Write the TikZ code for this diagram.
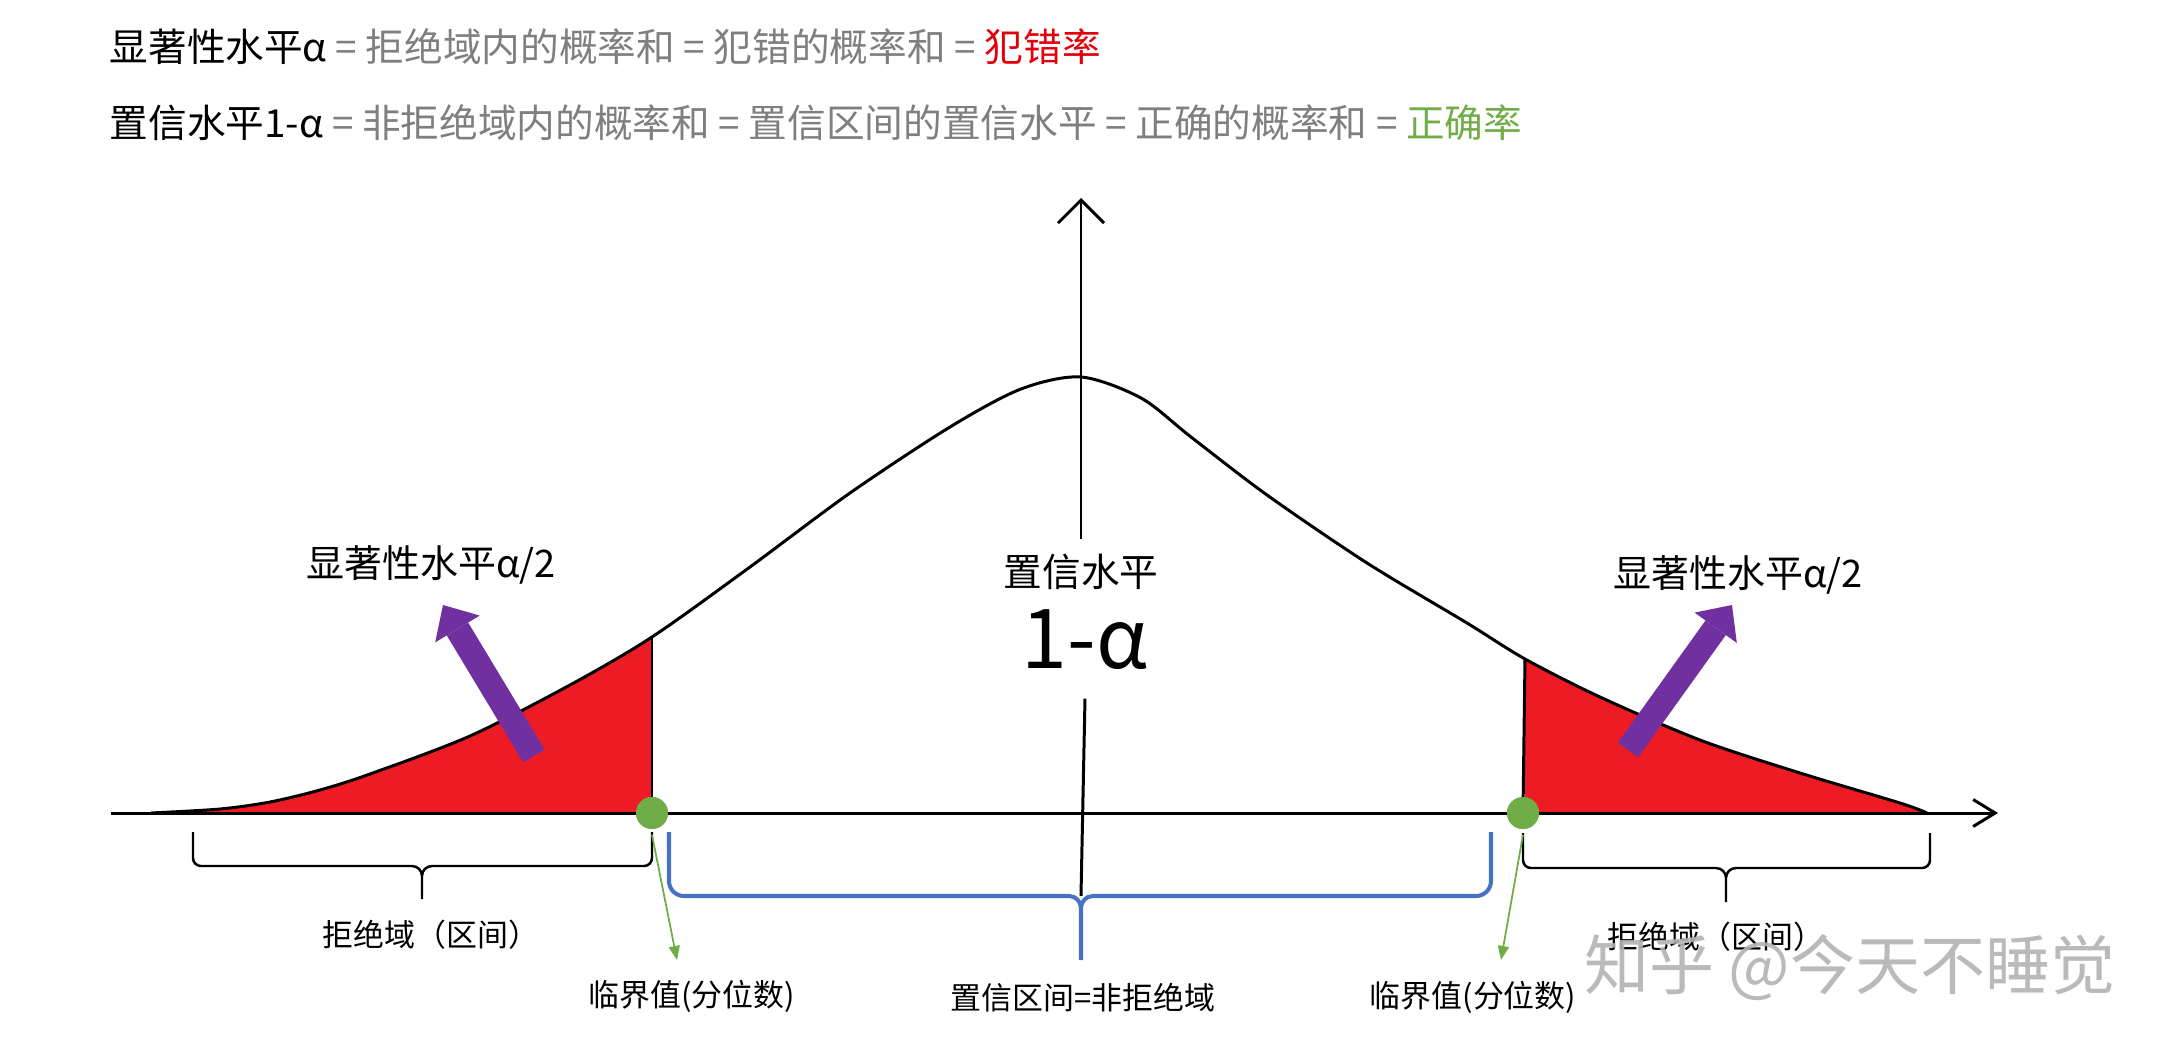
\documentclass[tikz,border=0pt]{standalone}
\usepackage{fontspec}
\newfontfamily\cjk{Noto Sans CJK SC}
\usetikzlibrary{arrows.meta}

\definecolor{tailred}{RGB}{237,28,36}
\definecolor{dotgreen}{RGB}{112,173,71}
\definecolor{braceblue}{RGB}{68,114,196}
\definecolor{arrowpurple}{RGB}{112,48,160}
\definecolor{textgray}{RGB}{127,127,127}
\definecolor{errred}{RGB}{228,0,10}

\newcommand{\bellcurve}{plot[smooth] coordinates {(-9.3,0) (-8.61,0.04) (-8.11,0.11) (-7.61,0.23) (-7.11,0.39) (-6.11,0.77) (-5.11,1.28) (-4.29,1.76) (-3.31,2.46) (-2.31,3.20) (-1.31,3.86) (-0.6,4.24) (0,4.36) (0.6,4.15) (1.1,3.76) (1.86,3.18) (2.86,2.50) (3.86,1.90) (4.44,1.54) (5.19,1.16) (6.19,0.73) (7.19,0.40) (8.19,0.10) (8.46,0)}}

\begin{document}
\begin{tikzpicture}[
  toptext/.style={anchor=west,inner sep=0pt,font=\cjk\fontsize{11pt}{13pt}\selectfont},
  alphatext/.style={font=\cjk\fontsize{10.8pt}{13pt}\selectfont},
  midtext/.style={font=\cjk\fontsize{11pt}{13pt}\selectfont,inner sep=0.14cm},
  bigtext/.style={font=\cjk\fontsize{23.5pt}{28pt}\selectfont,inner sep=0.1cm},
  smalltext/.style={font=\cjk\fontsize{8.8pt}{11pt}\selectfont},
  marktext/.style={font=\cjk\fontsize{18.5pt}{22pt}\selectfont,text=gray!60,opacity=0.9},
  axisline/.style={line width=0.85pt},
  bell/.style={line width=0.85pt},
  critdot/.style={circle,fill=dotgreen,minimum size=0.32cm,inner sep=0pt},
  critarrow/.style={dotgreen,line width=0.5pt,-{Triangle[length=0.14cm,width=0.11cm]}},
  fatarrow/.style={arrowpurple,line width=0.25cm,-{Triangle[length=0.28cm,width=0.52cm,line width=0pt]}},
  blackbrace/.style={line width=0.7pt},
  bluebrace/.style={braceblue,line width=1.15pt}
]
  \useasboundingbox (-10.81,-2.43) rectangle (10.90,8.13);

  \begin{scope}
    \clip (-9.8,0) rectangle (-4.29,5);
    \fill[tailred] \bellcurve -- cycle;
  \end{scope}
  \begin{scope}
    \clip (4.44,0) rectangle (9.0,5);
    \fill[tailred] \bellcurve -- cycle;
  \end{scope}
  \draw[bell] \bellcurve;

  \coordinate (xleft) at (-9.70,0);
  \coordinate (xright) at (9.17,0);
  \coordinate (ybot) at (0,-0.83);
  \coordinate (ytop) at (0,6.15);
  \coordinate (lcrittop) at (-4.29,1.76);
  \coordinate (rcrittop) at (4.44,1.54);

  \node[midtext] (conflvl) at (0,2.41) {置信水平};
  \node[bigtext] (onealpha) at (0.04,1.73) {1-α};
  \draw[axisline,-{Straight Barb[length=0.22cm,width=0.27cm]}] (xleft) -- (xright);
  \draw[axisline] (ybot) -- ([yshift=-0.18cm]onealpha.south);
  \draw[axisline,-{Straight Barb[length=0.23cm,width=0.46cm]}] (conflvl.north) -- (ytop);

  \node[critdot] (ldot) at (-4.29,0) {};
  \node[critdot] (rdot) at (4.42,0) {};
  \draw[axisline] (ldot.center) -- (lcrittop);
  \draw[axisline] (rdot.center) -- (rcrittop);
  \node[critdot] at (ldot) {};
  \node[critdot] at (rdot) {};

  \coordinate (ltail) at (-5.47,0.57);
  \coordinate (ltip) at (-6.38,2.08);
  \coordinate (rtail) at (5.47,0.63);
  \coordinate (rtip) at (6.51,2.08);
  \draw[fatarrow] (ltail) -- (ltip);
  \draw[fatarrow] (rtail) -- (rtip);
  \node[alphatext] (lalpha) at (-6.50,2.48) {显著性水平α/2};
  \node[alphatext] (ralpha) at (6.57,2.38) {显著性水平α/2};

  \draw[blackbrace] (-8.88,-0.19) -- (-8.88,-0.45) to[out=-90,in=180] (-8.80,-0.53) -- (-6.69,-0.53) to[out=0,in=90] (-6.59,-0.63) -- (-6.59,-0.86) -- (-6.59,-0.63) to[out=90,in=180] (-6.49,-0.53) -- (-4.37,-0.53) to[out=0,in=-90] (-4.29,-0.45) -- (-4.29,-0.19);
  \draw[bluebrace] (-4.12,-0.19) -- (-4.12,-0.68) to[out=-90,in=180] (-3.97,-0.83) -- (-0.12,-0.83) to[out=0,in=90] (0,-0.95) -- (0,-1.47) -- (0,-0.95) to[out=90,in=180] (0.12,-0.83) -- (3.95,-0.83) to[out=0,in=-90] (4.10,-0.68) -- (4.10,-0.19);
  \draw[blackbrace] (4.42,-0.20) -- (4.42,-0.47) to[out=-90,in=180] (4.50,-0.55) -- (6.35,-0.55) to[out=0,in=90] (6.45,-0.65) -- (6.45,-0.89) -- (6.45,-0.65) to[out=90,in=180] (6.55,-0.55) -- (8.41,-0.55) to[out=0,in=-90] (8.49,-0.47) -- (8.49,-0.20);

  \coordinate (lcritend) at (-4.04,-1.47);
  \coordinate (rcritend) at (4.20,-1.47);
  \draw[critarrow] ([yshift=-0.05cm]ldot.south) -- (lcritend);
  \draw[critarrow] ([yshift=-0.05cm]rdot.south) -- (rcritend);

  \node[smalltext] (lrej) at (-6.50,-1.22) {拒绝域（区间）};
  \node[smalltext] (rrej) at (6.35,-1.24) {拒绝域（区间）};
  \node[smalltext] (lcritlbl) at (-3.89,-1.83) {临界值(分位数)};
  \node[smalltext] (rcritlbl) at (3.92,-1.84) {临界值(分位数)};
  \node[smalltext] (cilbl) at (0.02,-1.85) {置信区间=非拒绝域};

  \node[toptext] (sigline) at (-9.72,7.66) {显著性水平α {\color{textgray}= 拒绝域内的概率和 = 犯错的概率和 =} {\color{errred}犯错率}};
  \node[toptext] (confline) at (-9.72,6.90) {置信水平1-α {\color{textgray}= 非拒绝域内的概率和 = 置信区间的置信水平 = 正确的概率和 =} {\color{dotgreen}正确率}};

  \node[marktext] (mark) at (7.69,-1.55) {知乎 @今天不睡觉};
\end{tikzpicture}
\end{document}
